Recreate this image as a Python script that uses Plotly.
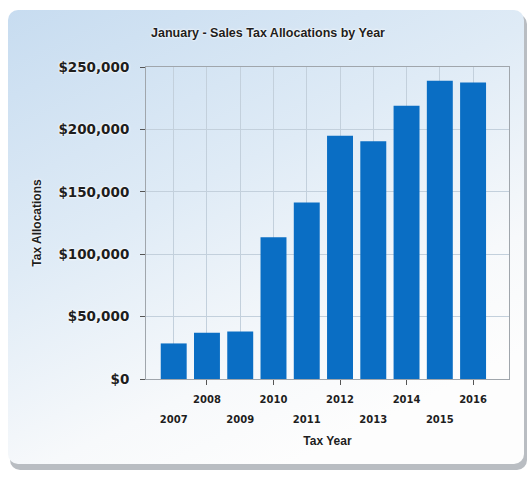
import base64
import plotly.graph_objects as go

# Sales tax allocations for January, by tax year
years = [2007, 2008, 2009, 2010, 2011, 2012, 2013, 2014, 2015, 2016]
allocations = [28500, 37000, 38000, 113500, 141500, 195000, 190500, 219000, 239000, 237500]
y_ticks = [0, 50000, 100000, 150000, 200000, 250000]
y_tick_labels = ["$0", "$50,000", "$100,000", "$150,000", "$200,000", "$250,000"]

even_years = [y for y in years if y % 2 == 0]
odd_years = [y for y in years if y % 2 == 1]

W, H = 528, 478
L, R, T, B = 146, 19, 67, 99
PW, PH = W - L - R, H - T - B

BAR = "#0a6ec4"
GRID = "#c3d0dc"
TXT = "#1e1e1e"
GLOW = "0 0 2px #ffffff, 0 0 3px #ffffff"

# Rounded card with a soft blue gradient and a grey drop shadow
card_svg = """<svg xmlns='http://www.w3.org/2000/svg' width='520' height='462' viewBox='0 0 520 462' preserveAspectRatio='none'>
<defs>
<linearGradient id='g' x1='0' y1='0' x2='0.55' y2='1'>
<stop offset='0' stop-color='#c7dcf0'/>
<stop offset='0.45' stop-color='#dfebf6'/>
<stop offset='0.8' stop-color='#f7f9fb'/>
<stop offset='1' stop-color='#fdfdfd'/>
</linearGradient>
</defs>
<rect x='2' y='4' width='517' height='456' rx='10' ry='10' fill='#b9bdc2'/>
<rect x='0' y='0' width='516' height='454' rx='10' ry='10' fill='url(#g)'/>
</svg>"""
card_uri = "data:image/svg+xml;base64," + base64.b64encode(card_svg.encode()).decode()

def px_x(x):
    return (x - L) / PW

def px_y(y):
    return (H - B - y) / PH

fig = go.Figure()
fig.add_trace(go.Bar(
    x=years, y=allocations, width=0.78,
    marker=dict(color=BAR, line=dict(width=0)),
    xaxis="x", yaxis="y", showlegend=False,
))
# Invisible companion trace so the second (odd-year) axis row is drawn
fig.add_trace(go.Scatter(
    x=years, y=allocations, mode="none", hoverinfo="skip",
    xaxis="x2", yaxis="y", showlegend=False,
))

fig.add_layout_image(dict(
    source=card_uri, xref="paper", yref="paper",
    x=px_x(8), y=px_y(10), sizex=520 / PW, sizey=462 / PH,
    xanchor="left", yanchor="top", sizing="stretch", layer="below",
))

xrange = [2006.167, 2017.08]
tick_font = dict(family="DejaVu Sans", size=10, color=TXT, weight="bold", shadow=GLOW)
label_family = "Liberation Sans Narrow, Liberation Sans"

fig.update_layout(
    width=W, height=H,
    margin=dict(l=L, r=R, t=T, b=B, pad=0),
    paper_bgcolor="white",
    plot_bgcolor="rgba(0,0,0,0)",
    title=dict(
        text="January - Sales Tax Allocations by Year",
        x=268 / W, y=1 - 33 / H, xanchor="center", yanchor="middle",
        font=dict(family=label_family, size=12.5, color=TXT, weight="bold", shadow=GLOW),
    ),
    xaxis=dict(
        range=xrange, tickvals=even_years, ticktext=[str(y) for y in even_years],
        ticks="outside", ticklen=5, tickcolor="#555555",
        showgrid=True, gridcolor=GRID, gridwidth=1,
        showline=True, linecolor="#a0a6ac", mirror=True,
        zeroline=False, tickfont=tick_font, ticklabelstandoff=6,
        title=dict(text="Tax Year", standoff=32,
                   font=dict(family=label_family, size=12, color=TXT, weight="bold", shadow=GLOW)),
    ),
    xaxis2=dict(
        range=xrange, overlaying="x", anchor="y", side="bottom",
        tickvals=odd_years, ticktext=[str(y) for y in odd_years],
        ticks="", showgrid=True, gridcolor=GRID, gridwidth=1,
        showline=False, zeroline=False, tickfont=tick_font, ticklabelstandoff=33,
    ),
    yaxis=dict(
        range=[0, 250000], tickvals=y_ticks, ticktext=y_tick_labels,
        ticks="outside", ticklen=5, tickcolor="#555555",
        showgrid=True, gridcolor=GRID, gridwidth=1,
        showline=True, linecolor="#a0a6ac", mirror=True,
        zeroline=False, ticklabelstandoff=8,
        tickfont=dict(family="DejaVu Sans", size=13.5, color=TXT, weight="bold", shadow=GLOW),
        title=dict(text="Tax Allocations", standoff=14,
                   font=dict(family=label_family, size=12, color=TXT, weight="bold", shadow=GLOW)),
    ),
)

fig.write_html("out.html")
